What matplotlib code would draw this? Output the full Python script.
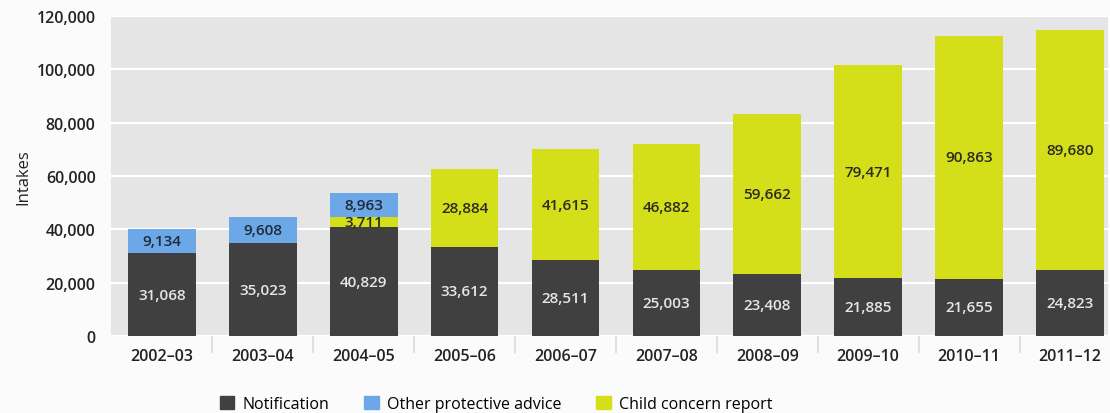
import matplotlib
matplotlib.use("Agg")
import matplotlib.pyplot as plt
from matplotlib.patches import Patch
from matplotlib.ticker import FuncFormatter
import numpy as np

plt.rcParams['font.family'] = ['Open Sans', 'DejaVu Sans']

years = ["2002–03", "2003–04", "2004–05", "2005–06", "2006–07",
         "2007–08", "2008–09", "2009–10", "2010–11", "2011–12"]
notification = [31068, 35023, 40829, 33612, 28511, 25003, 23408, 21885, 21655, 24823]
child_concern = [0, 0, 3711, 28884, 41615, 46882, 59662, 79471, 90863, 89680]
other_advice = [9134, 9608, 8963, 0, 0, 0, 0, 0, 0, 0]

c_notif = "#404040"
c_concern = "#d4df19"
c_other = "#6ca8e8"

fig = plt.figure(figsize=(11.1, 4.14), dpi=100, facecolor="#fbfbfb")
ax = fig.add_axes([0.1, 0.185, 0.898, 0.775])
ax.set_facecolor("#e5e5e5")

x = np.arange(len(years))
w = 0.67
notif = np.array(notification)
concern = np.array(child_concern)
other = np.array(other_advice)

ax.bar(x, notif, w, color=c_notif, zorder=3)
ax.bar(x, concern, w, bottom=notif, color=c_concern, zorder=3)
ax.bar(x, other, w, bottom=notif + concern, color=c_other, zorder=3)

# segment value labels
lab = dict(ha="center", va="center", fontsize=11, fontweight="semibold", zorder=4)
for i in x:
    ax.text(i, notif[i] / 2, f"{notif[i]:,}", color="#e6e6e6", **lab)
    if concern[i] > 0:
        ax.text(i, notif[i] + concern[i] / 2, f"{concern[i]:,}", color="#2b2b20", **lab)
    if other[i] > 0:
        ax.text(i, notif[i] + concern[i] + other[i] / 2, f"{other[i]:,}",
                color="#1f2a3a", **lab)

ax.set_ylim(0, 120000)
ax.set_xlim(-0.505, 9.375)
ax.set_yticks(np.arange(0, 120001, 20000))
ax.yaxis.set_major_formatter(FuncFormatter(lambda v, p: f"{int(v):,}"))
ax.grid(axis="y", color="white", linewidth=1.6, zorder=1)
ax.set_xticks(x)
ax.set_xticklabels(years)
ax.tick_params(axis="y", length=0, pad=11, labelsize=11.5, labelcolor="#222222")
ax.tick_params(axis="x", length=0, pad=8, labelsize=11.5, labelcolor="#222222")
for t in ax.get_xticklabels() + ax.get_yticklabels():
    t.set_fontweight("semibold")
for s in ax.spines.values():
    s.set_visible(False)
ax.set_ylabel("Intakes", fontsize=12, color="#222222", labelpad=4)

# separators between categories below the axis
for b in np.arange(0.5, len(years) - 1, 1.0):
    ax.plot([b, b], [0, -0.05], color="#e0e0e0", linewidth=1.5,
            transform=ax.get_xaxis_transform(), clip_on=False, zorder=0)

handles = [Patch(color=c_notif, label="Notification"),
           Patch(color=c_other, label="Other protective advice"),
           Patch(color=c_concern, label="Child concern report")]
fig.legend(handles=handles, loc="center", bbox_to_anchor=(0.447, 0.022),
           ncol=3, frameon=False, fontsize=11.5, handlelength=0.9,
           handleheight=0.9, handletextpad=0.5, columnspacing=2.2)

fig.savefig("out.png", dpi=100, facecolor=fig.get_facecolor())
